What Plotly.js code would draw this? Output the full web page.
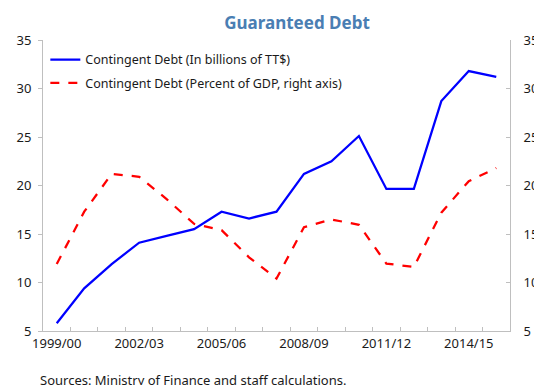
<!DOCTYPE html>
<html>
<head>
<meta charset="utf-8">
<script src="https://cdn.plot.ly/plotly-3.0.1.min.js"></script>
<style>html,body{margin:0;padding:0;background:#fff;}#chart{width:534px;height:385px;}</style>
</head>
<body>
<div id="chart"></div>
<script>
const categories = ["1999/00","2000/01","2001/02","2002/03","2003/04","2004/05","2005/06","2006/07","2007/08","2008/09","2009/10","2010/11","2011/12","2012/13","2013/14","2014/15","2015/16"];
const debtBillions = [5.8, 9.4, 11.9, 14.1, 14.8, 15.5, 17.3, 16.6, 17.3, 21.2, 22.5, 25.1, 19.65, 19.65, 28.7, 31.8, 31.2];
const debtPctGDP = [11.9, 17.3, 21.2, 20.9, 18.6, 16.05, 15.4, 12.6, 10.4, 15.7, 16.5, 15.95, 11.95, 11.6, 17.2, 20.45, 21.8];
const labelledTicks = ["1999/00","2002/03","2005/06","2008/09","2011/12","2014/15"];
const yTicks = [5, 10, 15, 20, 25, 30, 35];

const FONT = "Noto Sans, Open Sans, sans-serif";
const traces = [
  {x: categories, y: debtBillions, type: "scatter", mode: "lines", legendgroup: "a",
   name: "Contingent Debt (In billions of TT$)",
   line: {color: "#0000ff", width: 2.25}},
  {x: categories, y: debtPctGDP, type: "scatter", mode: "lines", yaxis: "y2", legendgroup: "b",
   name: "Contingent Debt (Percent of GDP, right axis)",
   line: {color: "#ff0000", width: 2.25, dash: "dash"}}
];
const layout = {
  width: 534, height: 385,
  margin: {l: 43, r: 24, t: 40, b: 54},
  paper_bgcolor: "#fff", plot_bgcolor: "#fff",
  font: {family: FONT, size: 13, color: "#1a1a1a"},
  title: {text: "<b>Guaranteed Debt</b>", font: {family: FONT, size: 17, color: "#4a7eb3"},
          x: 297 / 534, xanchor: "center", y: 1 - 23 / 385, yanchor: "middle"},
  showlegend: true,
  legend: {x: 0.005, y: 0.983, xanchor: "left", yanchor: "top", bgcolor: "rgba(0,0,0,0)",
           font: {family: FONT, size: 12.5, color: "#1a1a1a"}, traceorder: "grouped", tracegroupgap: 4},
  xaxis: {type: "category", range: [-0.5, 16.5], tickson: "boundaries",
          tickmode: "array", tickvals: categories, tickangle: 0,
          ticktext: categories.map(c => labelledTicks.includes(c) ? c : ""),
          ticks: "inside", ticklen: 4, tickcolor: "#bfbfbf",
          showline: true, linecolor: "#bfbfbf", linewidth: 1, showgrid: false, zeroline: false,
          tickfont: {family: FONT, size: 13, color: "#1a1a1a"}},
  yaxis: {range: [5, 35], tickvals: yTicks, ticks: "outside", ticklen: 4, tickcolor: "#bfbfbf",
          ticklabelstandoff: 4,
          showline: true, linecolor: "#bfbfbf", linewidth: 1, showgrid: false, zeroline: false,
          tickfont: {family: FONT, size: 13, color: "#1a1a1a"}},
  yaxis2: {range: [5, 35], tickvals: yTicks, overlaying: "y", side: "right",
           ticks: "inside", ticklen: 4, tickcolor: "#bfbfbf", ticklabelstandoff: 10,
           showline: true, linecolor: "#bfbfbf", linewidth: 1, showgrid: false, zeroline: false,
           tickfont: {family: FONT, size: 13, color: "#1a1a1a"}},
  annotations: [{text: "Sources: Ministry of Finance and staff calculations.", xref: "paper", yref: "paper",
                 x: (38 - 43) / 467, xanchor: "left", y: (331 - 379.5) / 291, yanchor: "middle",
                 showarrow: false, font: {family: FONT, size: 13, color: "#1a1a1a"}}]
};
Plotly.newPlot("chart", traces, layout, {displayModeBar: false, staticPlot: true});
</script>
</body>
</html>
